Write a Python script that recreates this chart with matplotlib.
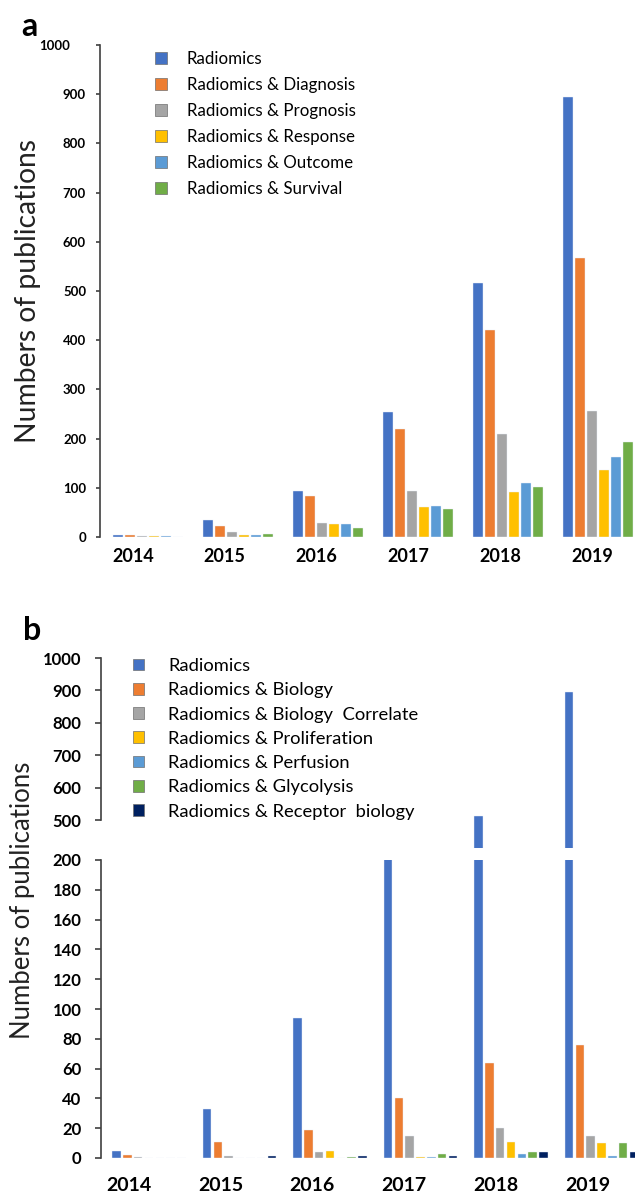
import numpy as np
import matplotlib
matplotlib.use("Agg")
import matplotlib.pyplot as plt
from matplotlib.patches import Patch
from matplotlib.transforms import ScaledTranslation

plt.rcParams['font.family'] = ['Lato', 'DejaVu Sans']

years = ['2014', '2015', '2016', '2017', '2018', '2019']

# panel a
a_labels = ['Radiomics', 'Radiomics & Diagnosis', 'Radiomics & Prognosis',
            'Radiomics & Response', 'Radiomics & Outcome', 'Radiomics & Survival']
a_radiomics = [5, 34, 94, 254, 516, 894]
a_diagnosis = [4, 22, 84, 219, 421, 567]
a_prognosis = [2, 10, 28, 94, 209, 256]
a_response = [2, 4, 26, 60, 92, 137]
a_outcome = [2, 5, 26, 63, 110, 163]
a_survival = [0, 7, 18, 57, 102, 194]

# panel b
b_labels = ['Radiomics', 'Radiomics & Biology', 'Radiomics & Biology  Correlate',
            'Radiomics & Proliferation', 'Radiomics & Perfusion',
            'Radiomics & Glycolysis', 'Radiomics & Receptor  biology']
b_radiomics = [5, 33, 94, 254, 514, 894]
b_biology = [2, 11, 19, 40, 64, 76]
b_correlate = [1, 1.5, 4, 15, 20, 15]
b_prolif = [0, 0, 5, 1, 11, 10]
b_perfusion = [0, 0, 0, 1, 3, 1.5]
b_glycolysis = [0, 0, 1, 3, 4, 10]
b_receptor = [0, 1.5, 1.5, 1.5, 4, 4]

colors = ['#4472C4', '#ED7D31', '#A5A5A5', '#FFC000', '#5B9BD5', '#70AD47', '#002060']

W, H = 635, 1195
fig = plt.figure(figsize=(W / 100, H / 100), dpi=100)


def px_axes(left, top, right, bottom):
    return fig.add_axes([left / W, 1 - bottom / H, (right - left) / W, (bottom - top) / H])


def style_axis(ax, fs, tlen, tpad):
    for s in ['top', 'right', 'bottom']:
        ax.spines[s].set_visible(False)
    ax.spines['left'].set_color('#404040')
    ax.spines['left'].set_linewidth(1.2)
    ax.tick_params(axis='y', length=tlen, width=1.2, color='#404040', pad=tpad,
                   labelsize=fs)
    for lab in ax.get_yticklabels():
        lab.set_fontweight('bold')


x = np.arange(len(years))

# ---------------- panel a ----------------
ax_a = px_axes(100, 45, 635, 537)
series_a = [a_radiomics, a_diagnosis, a_prognosis, a_response, a_outcome, a_survival]
step_a = 12 / 90
for k, vals in enumerate(series_a):
    ax_a.bar(x + (k - 2.5) * step_a, vals, width=0.105, color=colors[k],
             edgecolor='#e8eef8', linewidth=0.3, zorder=2)
ax_a.set_xlim(-48 / 90, 487 / 90)
ax_a.set_ylim(0, 1000)
yt = np.arange(0, 1001, 100)
ax_a.set_yticks(yt, labels=[str(v) for v in yt])
style_axis(ax_a, 9.5, 3, 7)
ax_a.set_xticks(x - 0.167 + 0.02 * x, labels=years)
ax_a.tick_params(axis='x', length=0, pad=8, labelsize=13)
for lab in ax_a.get_xticklabels():
    lab.set_fontweight('bold')
for lab in ax_a.get_yticklabels():
    if lab.get_text() == '1000':
        lab.set_transform(lab.get_transform() + ScaledTranslation(-0.16, 0, fig.dpi_scale_trans))

handles_a = [Patch(facecolor=colors[k], edgecolor='#6f6f6f', linewidth=0.5) for k in range(6)]
ax_a.legend(handles_a, a_labels, loc='upper left', bbox_to_anchor=(0.103, 0.988),
            frameon=False, fontsize=12.2, borderpad=0, borderaxespad=0,
            handlelength=0.68, handleheight=0.68, handletextpad=1.2, labelspacing=0.59)

fig.text(28 / W, 1 - 291 / H, 'Numbers of publications', rotation=90,
         ha='center', va='center', fontsize=20.3, color='#222222')
fig.text(21 / W, 1 - 27 / H, 'a', ha='left', va='center', fontsize=23, fontweight='bold')

# ---------------- panel b ----------------
series_b = [b_radiomics, b_biology, b_correlate, b_prolif, b_perfusion, b_glycolysis, b_receptor]
step_b = 10.8 / 90.5
ax_bt = px_axes(101, 658, 635, 848)
ax_bb = px_axes(101, 860, 635, 1158)
for ax in (ax_bt, ax_bb):
    for k, vals in enumerate(series_b):
        ax.bar(x + (k - 3) * step_b, vals, width=0.094, color=colors[k],
               edgecolor='#e8eef8', linewidth=0.3, zorder=2)
    ax.set_xlim(-48 / 90.5, 486 / 90.5)

ax_bt.set_ylim(415, 1000)
yt_top = np.arange(500, 1001, 100)
ax_bt.set_yticks(yt_top, labels=[str(v) for v in yt_top])
style_axis(ax_bt, 12, 4, 10)
ax_bt.spines['left'].set_bounds(500, 1000)
ax_bt.set_xticks([])

ax_bb.set_ylim(0, 200)
yt_bot = np.arange(0, 201, 20)
ax_bb.set_yticks(yt_bot, labels=[str(v) for v in yt_bot])
style_axis(ax_bb, 12, 4, 10)
ax_bb.set_xticks(x - 0.221 + 0.013 * x, labels=years)
ax_bb.tick_params(axis='x', length=0, pad=14, labelsize=14)
for lab in ax_bb.get_xticklabels():
    lab.set_fontweight('bold')

handles_b = [Patch(facecolor=colors[k], edgecolor='#6f6f6f', linewidth=0.5) for k in range(7)]
ax_bt.legend(handles_b, b_labels, loc='upper left', bbox_to_anchor=(0.06, 1.0),
             frameon=False, fontsize=13.2, borderpad=0, borderaxespad=0,
             handlelength=0.62, handleheight=0.62, handletextpad=1.3, labelspacing=0.45)

fig.text(23 / W, 1 - 900 / H, 'Numbers of publications', rotation=90,
         ha='center', va='center', fontsize=18.5, color='#222222')
fig.text(23 / W, 1 - 631 / H, 'b', ha='left', va='center', fontsize=23, fontweight='bold')

fig.savefig('out.png', dpi=100)
